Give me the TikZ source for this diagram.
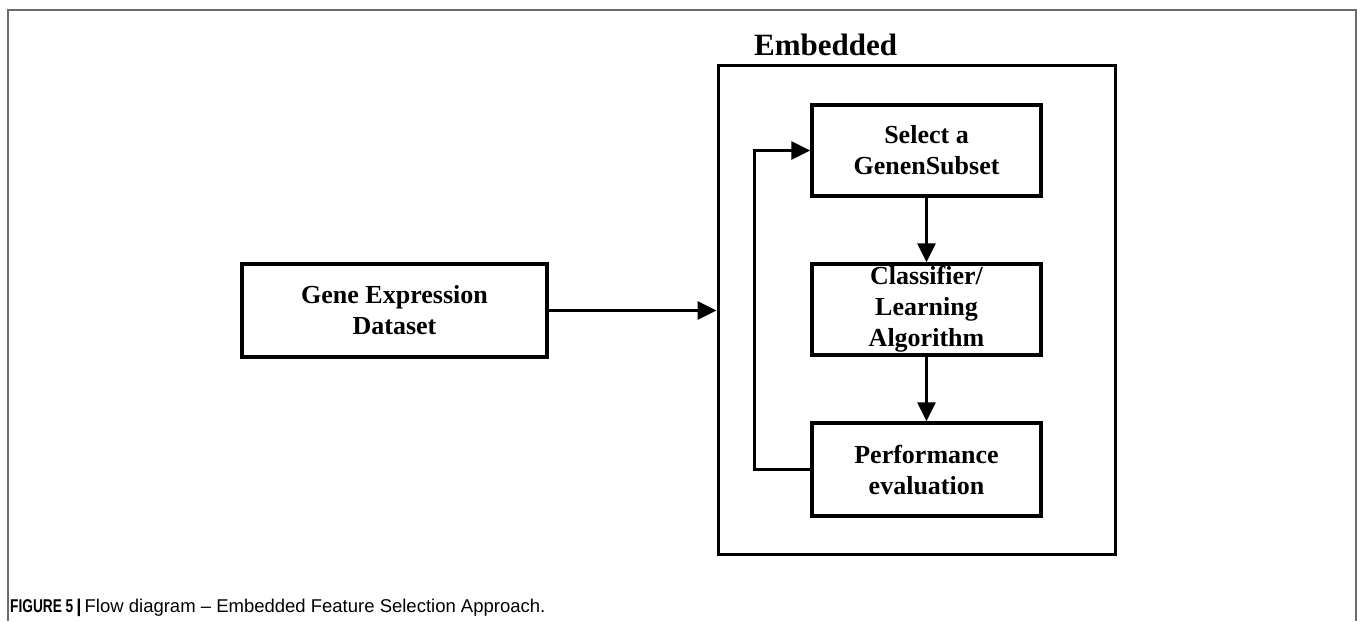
\documentclass[tikz,border=0pt]{standalone}
\usepackage{fontspec}
\setmainfont{Liberation Serif}
\setsansfont{Liberation Sans}
\usetikzlibrary{arrows.meta}
\begin{document}
\begin{tikzpicture}[x=1pt,y=-1pt,
  stepbox/.style={draw,line width=3.5pt,inner sep=0pt,minimum width=229pt,
    minimum height=91pt,align=center,font=\fontsize{26}{31}\selectfont\bfseries},
  flow/.style={line width=3pt,-{Triangle[length=19pt,width=18pt]}},
  frameline/.style={draw=black!58,line width=2pt}]
\useasboundingbox (0,0) rectangle (1357,621);
% page frame, open at the bottom
\draw[frameline] (8,621) -- (8,9.5) -- (1355.5,9.5) -- (1355.5,621);
% embedded container
\node[draw,line width=3pt,inner sep=0pt,minimum width=397pt,minimum height=489pt]
  (emb) at (916.5,309.5) {};
\node[anchor=base west,inner sep=0pt,font=\fontsize{31}{36}\selectfont\bfseries]
  (embtitle) at (754,55) {Embedded};
% steps
\node[stepbox,minimum width=305pt,minimum height=93pt] (gene) at (394.5,310.5)
  {Gene Expression\\Dataset};
\node[stepbox] (sel) at (926.5,150.5) {Select a\\GenenSubset};
\node[stepbox] (cls) at (926.5,309.5) {Classifier/\\Learning\\Algorithm};
\node[stepbox,minimum height=93pt] (perf) at (926.5,469.5) {Performance\\evaluation};
% connectors
\draw[flow] (gene.east) -- (gene.east -| emb.west);
\draw[flow] (sel.south) -- (cls.north);
\draw[flow] (cls.south) -- (perf.north);
\draw[flow] (perf.west) -- ++(-56,0) |- (sel.west);
% caption
\node[anchor=base west,inner sep=0pt,font=\sffamily\fontsize{18.5}{22}\selectfont]
  (cap) at (10,612) {\scalebox{0.74}[1]{\textbf{FIGURE 5}}\,\textbf{|}\,Flow diagram -- Embedded Feature Selection Approach.};
\end{tikzpicture}
\end{document}
